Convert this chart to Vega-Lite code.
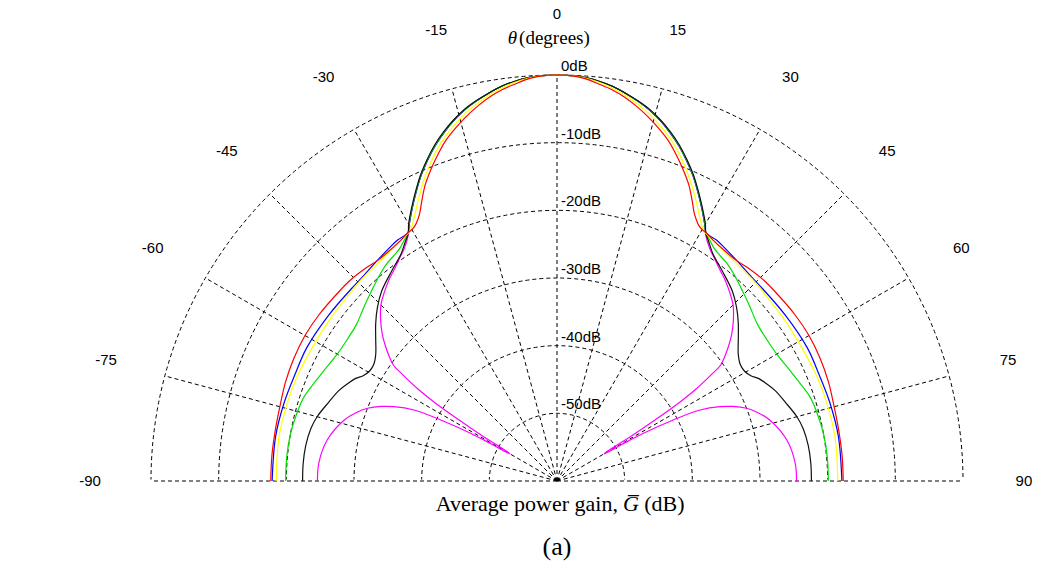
{
  "$schema": "https://vega.github.io/schema/vega-lite/v6.json",
  "width": 812,
  "height": 406,
  "autosize": "none",
  "padding": {"left": 151, "top": 75, "right": 78, "bottom": 88},
  "background": "white",
  "config": {"view": {"stroke": null}},
  "datasets": {
    "curves": [
      {"s":"1-magenta","t":-90,"g":-24.6},{"s":"1-magenta","t":-85.7,"g":-24.7},{"s":"1-magenta","t":-79.9,"g":-25.5},{"s":"1-magenta","t":-74,"g":-27.3},{"s":"1-magenta","t":-70.9,"g":-28.8},{"s":"1-magenta","t":-69,"g":-30.0},{"s":"1-magenta","t":-67,"g":-31.8},{"s":"1-magenta","t":-65.5,"g":-33.5},{"s":"1-magenta","t":-63.6,"g":-36.4},{"s":"1-magenta","t":-62.3,"g":-40.6},{"s":"1-magenta","t":-61.1,"g":-45.4},{"s":"1-magenta","t":-60.6,"g":-49.0},{"s":"1-magenta","t":-60.2,"g":-52.0},{"s":"1-magenta","t":-59.5,"g":-51.5},{"s":"1-magenta","t":-58.8,"g":-47.0},{"s":"1-magenta","t":-58,"g":-42.5},{"s":"1-magenta","t":-57.3,"g":-38.5},{"s":"1-magenta","t":-56.5,"g":-35.3},{"s":"1-magenta","t":-55.5,"g":-32.5},{"s":"1-magenta","t":-54.7,"g":-30.4},{"s":"1-magenta","t":-53.5,"g":-29.2},{"s":"1-magenta","t":-52,"g":-27.9},{"s":"1-magenta","t":-50,"g":-26.3},{"s":"1-magenta","t":-47.6,"g":-24.7},{"s":"1-magenta","t":-45,"g":-23.2},{"s":"1-magenta","t":-43,"g":-22.4},{"s":"1-magenta","t":-40,"g":-21.3},{"s":"1-magenta","t":-38,"g":-20.7},{"s":"1-magenta","t":-35,"g":-19.6},{"s":"1-magenta","t":-33.5,"g":-19.0},{"s":"1-magenta","t":-31,"g":-17.4},{"s":"1-magenta","t":-30,"g":-16.3},{"s":"1-magenta","t":-28,"g":-14.4},{"s":"1-magenta","t":-26,"g":-12.5},{"s":"1-magenta","t":-24,"g":-10.6},{"s":"1-magenta","t":-22,"g":-8.9},{"s":"1-magenta","t":-20,"g":-7.3},{"s":"1-magenta","t":-18,"g":-5.9},{"s":"1-magenta","t":-16,"g":-4.6},{"s":"1-magenta","t":-14,"g":-3.5},{"s":"1-magenta","t":-12,"g":-2.6},{"s":"1-magenta","t":-10,"g":-1.8},{"s":"1-magenta","t":-8,"g":-1.1},{"s":"1-magenta","t":-6,"g":-0.6},{"s":"1-magenta","t":-4,"g":-0.25},{"s":"1-magenta","t":-2,"g":-0.05},
      {"s":"1-magenta","t":0,"g":0},
      {"s":"1-magenta","t":2,"g":-0.05},{"s":"1-magenta","t":4,"g":-0.25},{"s":"1-magenta","t":6,"g":-0.6},{"s":"1-magenta","t":8,"g":-1.1},{"s":"1-magenta","t":10,"g":-1.8},{"s":"1-magenta","t":12,"g":-2.6},{"s":"1-magenta","t":14,"g":-3.5},{"s":"1-magenta","t":16,"g":-4.6},{"s":"1-magenta","t":18,"g":-5.9},{"s":"1-magenta","t":20,"g":-7.3},{"s":"1-magenta","t":22,"g":-8.9},{"s":"1-magenta","t":24,"g":-10.6},{"s":"1-magenta","t":26,"g":-12.5},{"s":"1-magenta","t":28,"g":-14.4},{"s":"1-magenta","t":30,"g":-16.3},{"s":"1-magenta","t":31,"g":-17.4},{"s":"1-magenta","t":33.5,"g":-19.0},{"s":"1-magenta","t":35,"g":-19.6},{"s":"1-magenta","t":38,"g":-20.7},{"s":"1-magenta","t":40,"g":-21.3},{"s":"1-magenta","t":43,"g":-22.4},{"s":"1-magenta","t":45,"g":-23.2},{"s":"1-magenta","t":47.6,"g":-24.7},{"s":"1-magenta","t":50,"g":-26.3},{"s":"1-magenta","t":52,"g":-27.9},{"s":"1-magenta","t":53.5,"g":-29.2},{"s":"1-magenta","t":54.7,"g":-30.4},{"s":"1-magenta","t":55.5,"g":-32.5},{"s":"1-magenta","t":56.5,"g":-35.3},{"s":"1-magenta","t":57.3,"g":-38.5},{"s":"1-magenta","t":58,"g":-42.5},{"s":"1-magenta","t":58.8,"g":-47.0},{"s":"1-magenta","t":59.5,"g":-51.5},{"s":"1-magenta","t":60.2,"g":-52.0},{"s":"1-magenta","t":60.6,"g":-49.0},{"s":"1-magenta","t":61.1,"g":-45.4},{"s":"1-magenta","t":62.3,"g":-40.6},{"s":"1-magenta","t":63.6,"g":-36.4},{"s":"1-magenta","t":65.5,"g":-33.5},{"s":"1-magenta","t":67,"g":-31.8},{"s":"1-magenta","t":69,"g":-30.0},{"s":"1-magenta","t":70.9,"g":-28.8},{"s":"1-magenta","t":74,"g":-27.3},{"s":"1-magenta","t":79.9,"g":-25.5},{"s":"1-magenta","t":85.7,"g":-24.7},{"s":"1-magenta","t":90,"g":-24.6},

      {"s":"2-blue","t":-90,"g":-17.9},{"s":"2-blue","t":-81,"g":-17.9},{"s":"2-blue","t":-74,"g":-18.05},{"s":"2-blue","t":-68,"g":-18.2},{"s":"2-blue","t":-62,"g":-18.1},{"s":"2-blue","t":-54,"g":-18.3},{"s":"2-blue","t":-47,"g":-18.4},{"s":"2-blue","t":-43,"g":-18.3},{"s":"2-blue","t":-39.5,"g":-18.0},{"s":"2-blue","t":-36,"g":-17.6},{"s":"2-blue","t":-33.5,"g":-17.3},{"s":"2-blue","t":-31,"g":-17.2},{"s":"2-blue","t":-30,"g":-16.3},{"s":"2-blue","t":-28,"g":-14.4},{"s":"2-blue","t":-26,"g":-12.5},{"s":"2-blue","t":-24,"g":-10.6},{"s":"2-blue","t":-22,"g":-8.9},{"s":"2-blue","t":-20,"g":-7.3},{"s":"2-blue","t":-18,"g":-5.9},{"s":"2-blue","t":-16,"g":-4.6},{"s":"2-blue","t":-14,"g":-3.5},{"s":"2-blue","t":-12,"g":-2.6},{"s":"2-blue","t":-10,"g":-1.8},{"s":"2-blue","t":-8,"g":-1.1},{"s":"2-blue","t":-6,"g":-0.6},{"s":"2-blue","t":-4,"g":-0.25},{"s":"2-blue","t":-2,"g":-0.05},
      {"s":"2-blue","t":0,"g":0},
      {"s":"2-blue","t":2,"g":-0.05},{"s":"2-blue","t":4,"g":-0.25},{"s":"2-blue","t":6,"g":-0.6},{"s":"2-blue","t":8,"g":-1.1},{"s":"2-blue","t":10,"g":-1.8},{"s":"2-blue","t":12,"g":-2.6},{"s":"2-blue","t":14,"g":-3.5},{"s":"2-blue","t":16,"g":-4.6},{"s":"2-blue","t":18,"g":-5.9},{"s":"2-blue","t":20,"g":-7.3},{"s":"2-blue","t":22,"g":-8.9},{"s":"2-blue","t":24,"g":-10.6},{"s":"2-blue","t":26,"g":-12.5},{"s":"2-blue","t":28,"g":-14.4},{"s":"2-blue","t":30,"g":-16.3},{"s":"2-blue","t":31,"g":-17.2},{"s":"2-blue","t":33.5,"g":-17.3},{"s":"2-blue","t":36,"g":-17.6},{"s":"2-blue","t":39.5,"g":-18.0},{"s":"2-blue","t":43,"g":-18.3},{"s":"2-blue","t":47,"g":-18.4},{"s":"2-blue","t":54,"g":-18.3},{"s":"2-blue","t":62,"g":-18.1},{"s":"2-blue","t":68,"g":-18.2},{"s":"2-blue","t":74,"g":-18.05},{"s":"2-blue","t":81,"g":-17.9},{"s":"2-blue","t":90,"g":-17.9},

      {"s":"3-green","t":-90,"g":-19.9},{"s":"3-green","t":-85,"g":-19.9},{"s":"3-green","t":-80,"g":-20.0},{"s":"3-green","t":-75,"g":-20.3},{"s":"3-green","t":-71.6,"g":-20.6},{"s":"3-green","t":-67,"g":-21.5},{"s":"3-green","t":-64.5,"g":-21.9},{"s":"3-green","t":-60,"g":-22.5},{"s":"3-green","t":-56,"g":-22.6},{"s":"3-green","t":-52,"g":-22.4},{"s":"3-green","t":-48,"g":-21.6},{"s":"3-green","t":-44.5,"g":-20.8},{"s":"3-green","t":-41,"g":-19.9},{"s":"3-green","t":-38,"g":-19.2},{"s":"3-green","t":-36,"g":-18.9},{"s":"3-green","t":-34,"g":-18.5},{"s":"3-green","t":-32.5,"g":-17.9},{"s":"3-green","t":-31,"g":-17.3},{"s":"3-green","t":-30,"g":-16.25},{"s":"3-green","t":-28,"g":-14.35},{"s":"3-green","t":-26,"g":-12.45},{"s":"3-green","t":-24,"g":-10.55},{"s":"3-green","t":-22,"g":-8.85},{"s":"3-green","t":-20,"g":-7.25},{"s":"3-green","t":-18,"g":-5.85},{"s":"3-green","t":-16,"g":-4.55},{"s":"3-green","t":-14,"g":-3.45},{"s":"3-green","t":-12,"g":-2.6},{"s":"3-green","t":-10,"g":-1.8},{"s":"3-green","t":-8,"g":-1.1},{"s":"3-green","t":-6,"g":-0.6},{"s":"3-green","t":-4,"g":-0.25},{"s":"3-green","t":-2,"g":-0.05},
      {"s":"3-green","t":0,"g":0},
      {"s":"3-green","t":2,"g":-0.05},{"s":"3-green","t":4,"g":-0.25},{"s":"3-green","t":6,"g":-0.6},{"s":"3-green","t":8,"g":-1.1},{"s":"3-green","t":10,"g":-1.8},{"s":"3-green","t":12,"g":-2.6},{"s":"3-green","t":14,"g":-3.45},{"s":"3-green","t":16,"g":-4.55},{"s":"3-green","t":18,"g":-5.85},{"s":"3-green","t":20,"g":-7.25},{"s":"3-green","t":22,"g":-8.85},{"s":"3-green","t":24,"g":-10.55},{"s":"3-green","t":26,"g":-12.45},{"s":"3-green","t":28,"g":-14.35},{"s":"3-green","t":30,"g":-16.25},{"s":"3-green","t":31,"g":-17.3},{"s":"3-green","t":32.5,"g":-17.9},{"s":"3-green","t":34,"g":-18.5},{"s":"3-green","t":36,"g":-18.9},{"s":"3-green","t":38,"g":-19.2},{"s":"3-green","t":41,"g":-19.9},{"s":"3-green","t":44.5,"g":-20.8},{"s":"3-green","t":48,"g":-21.6},{"s":"3-green","t":52,"g":-22.4},{"s":"3-green","t":56,"g":-22.6},{"s":"3-green","t":60,"g":-22.5},{"s":"3-green","t":64.5,"g":-21.9},{"s":"3-green","t":67,"g":-21.5},{"s":"3-green","t":71.6,"g":-20.6},{"s":"3-green","t":75,"g":-20.3},{"s":"3-green","t":80,"g":-20.0},{"s":"3-green","t":85,"g":-19.9},{"s":"3-green","t":90,"g":-19.9},

      {"s":"4-black","t":-90,"g":-22.4},{"s":"4-black","t":-86,"g":-22.4},{"s":"4-black","t":-82,"g":-22.5},{"s":"4-black","t":-78,"g":-22.8},{"s":"4-black","t":-75,"g":-23.3},{"s":"4-black","t":-71,"g":-24.3},{"s":"4-black","t":-67.5,"g":-25.1},{"s":"4-black","t":-65,"g":-25.9},{"s":"4-black","t":-63,"g":-26.6},{"s":"4-black","t":-61.5,"g":-27.4},{"s":"4-black","t":-59.5,"g":-27.9},{"s":"4-black","t":-57.5,"g":-27.9},{"s":"4-black","t":-55,"g":-27.3},{"s":"4-black","t":-52,"g":-26.0},{"s":"4-black","t":-49,"g":-24.5},{"s":"4-black","t":-46,"g":-23.1},{"s":"4-black","t":-42.7,"g":-21.8},{"s":"4-black","t":-38.2,"g":-20.5},{"s":"4-black","t":-34.5,"g":-19.3},{"s":"4-black","t":-32.5,"g":-18.2},{"s":"4-black","t":-31,"g":-17.3},{"s":"4-black","t":-30,"g":-16.15},{"s":"4-black","t":-28,"g":-14.25},{"s":"4-black","t":-26,"g":-12.35},{"s":"4-black","t":-24,"g":-10.45},{"s":"4-black","t":-22,"g":-8.75},{"s":"4-black","t":-20,"g":-7.15},{"s":"4-black","t":-18,"g":-5.75},{"s":"4-black","t":-16,"g":-4.5},{"s":"4-black","t":-14,"g":-3.4},{"s":"4-black","t":-12,"g":-2.55},{"s":"4-black","t":-10,"g":-1.8},{"s":"4-black","t":-8,"g":-1.1},{"s":"4-black","t":-6,"g":-0.6},{"s":"4-black","t":-4,"g":-0.25},{"s":"4-black","t":-2,"g":-0.05},
      {"s":"4-black","t":0,"g":0},
      {"s":"4-black","t":2,"g":-0.05},{"s":"4-black","t":4,"g":-0.25},{"s":"4-black","t":6,"g":-0.6},{"s":"4-black","t":8,"g":-1.1},{"s":"4-black","t":10,"g":-1.8},{"s":"4-black","t":12,"g":-2.55},{"s":"4-black","t":14,"g":-3.4},{"s":"4-black","t":16,"g":-4.5},{"s":"4-black","t":18,"g":-5.75},{"s":"4-black","t":20,"g":-7.15},{"s":"4-black","t":22,"g":-8.75},{"s":"4-black","t":24,"g":-10.45},{"s":"4-black","t":26,"g":-12.35},{"s":"4-black","t":28,"g":-14.25},{"s":"4-black","t":30,"g":-16.15},{"s":"4-black","t":31,"g":-17.3},{"s":"4-black","t":32.5,"g":-18.2},{"s":"4-black","t":34.5,"g":-19.3},{"s":"4-black","t":38.2,"g":-20.5},{"s":"4-black","t":42.7,"g":-21.8},{"s":"4-black","t":46,"g":-23.1},{"s":"4-black","t":49,"g":-24.5},{"s":"4-black","t":52,"g":-26.0},{"s":"4-black","t":55,"g":-27.3},{"s":"4-black","t":57.5,"g":-27.9},{"s":"4-black","t":59.5,"g":-27.9},{"s":"4-black","t":61.5,"g":-27.4},{"s":"4-black","t":63,"g":-26.6},{"s":"4-black","t":65,"g":-25.9},{"s":"4-black","t":67.5,"g":-25.1},{"s":"4-black","t":71,"g":-24.3},{"s":"4-black","t":75,"g":-23.3},{"s":"4-black","t":78,"g":-22.8},{"s":"4-black","t":82,"g":-22.5},{"s":"4-black","t":86,"g":-22.4},{"s":"4-black","t":90,"g":-22.4},

      {"s":"5-yellow","t":-90,"g":-18.5},{"s":"5-yellow","t":-81,"g":-18.4},{"s":"5-yellow","t":-74,"g":-18.5},{"s":"5-yellow","t":-68,"g":-18.6},{"s":"5-yellow","t":-62,"g":-18.8},{"s":"5-yellow","t":-55,"g":-18.8},{"s":"5-yellow","t":-48,"g":-18.7},{"s":"5-yellow","t":-44,"g":-18.5},{"s":"5-yellow","t":-38.5,"g":-18.25},{"s":"5-yellow","t":-35,"g":-17.9},{"s":"5-yellow","t":-33,"g":-17.6},{"s":"5-yellow","t":-31,"g":-17.3},{"s":"5-yellow","t":-30,"g":-16.9},{"s":"5-yellow","t":-28,"g":-15.3},{"s":"5-yellow","t":-26,"g":-13.4},{"s":"5-yellow","t":-24,"g":-11.5},{"s":"5-yellow","t":-22,"g":-9.7},{"s":"5-yellow","t":-20,"g":-8.0},{"s":"5-yellow","t":-18,"g":-6.5},{"s":"5-yellow","t":-16,"g":-5.2},{"s":"5-yellow","t":-14,"g":-4.0},{"s":"5-yellow","t":-12,"g":-3.0},{"s":"5-yellow","t":-10,"g":-2.1},{"s":"5-yellow","t":-8,"g":-1.35},{"s":"5-yellow","t":-6,"g":-0.75},{"s":"5-yellow","t":-4,"g":-0.3},{"s":"5-yellow","t":-2,"g":-0.05},
      {"s":"5-yellow","t":0,"g":0},
      {"s":"5-yellow","t":2,"g":-0.05},{"s":"5-yellow","t":4,"g":-0.3},{"s":"5-yellow","t":6,"g":-0.75},{"s":"5-yellow","t":8,"g":-1.35},{"s":"5-yellow","t":10,"g":-2.1},{"s":"5-yellow","t":12,"g":-3.0},{"s":"5-yellow","t":14,"g":-4.0},{"s":"5-yellow","t":16,"g":-5.2},{"s":"5-yellow","t":18,"g":-6.5},{"s":"5-yellow","t":20,"g":-8.0},{"s":"5-yellow","t":22,"g":-9.7},{"s":"5-yellow","t":24,"g":-11.5},{"s":"5-yellow","t":26,"g":-13.4},{"s":"5-yellow","t":28,"g":-15.3},{"s":"5-yellow","t":30,"g":-16.9},{"s":"5-yellow","t":31,"g":-17.3},{"s":"5-yellow","t":33,"g":-17.6},{"s":"5-yellow","t":35,"g":-17.9},{"s":"5-yellow","t":38.5,"g":-18.25},{"s":"5-yellow","t":44,"g":-18.5},{"s":"5-yellow","t":48,"g":-18.7},{"s":"5-yellow","t":55,"g":-18.8},{"s":"5-yellow","t":62,"g":-18.8},{"s":"5-yellow","t":68,"g":-18.6},{"s":"5-yellow","t":74,"g":-18.5},{"s":"5-yellow","t":81,"g":-18.4},{"s":"5-yellow","t":90,"g":-18.5},

      {"s":"6-red","t":-90,"g":-17.7},{"s":"6-red","t":-85,"g":-17.7},{"s":"6-red","t":-80,"g":-17.7},{"s":"6-red","t":-75,"g":-17.6},{"s":"6-red","t":-70,"g":-17.3},{"s":"6-red","t":-65,"g":-17.1},{"s":"6-red","t":-60,"g":-17.0},{"s":"6-red","t":-55,"g":-17.1},{"s":"6-red","t":-50,"g":-17.3},{"s":"6-red","t":-46,"g":-17.4},{"s":"6-red","t":-42,"g":-17.7},{"s":"6-red","t":-39,"g":-18.0},{"s":"6-red","t":-36,"g":-17.9},{"s":"6-red","t":-33,"g":-17.6},{"s":"6-red","t":-31,"g":-17.2},{"s":"6-red","t":-30,"g":-17.1},{"s":"6-red","t":-29,"g":-16.8},{"s":"6-red","t":-28,"g":-16.2},{"s":"6-red","t":-27,"g":-15.4},{"s":"6-red","t":-26,"g":-14.3},{"s":"6-red","t":-24,"g":-12.1},{"s":"6-red","t":-22,"g":-10.3},{"s":"6-red","t":-20,"g":-8.6},{"s":"6-red","t":-18,"g":-7.0},{"s":"6-red","t":-16,"g":-5.7},{"s":"6-red","t":-14,"g":-4.5},{"s":"6-red","t":-12,"g":-3.4},{"s":"6-red","t":-10,"g":-2.4},{"s":"6-red","t":-8,"g":-1.6},{"s":"6-red","t":-6,"g":-1.0},{"s":"6-red","t":-4,"g":-0.4},{"s":"6-red","t":-2,"g":-0.05},
      {"s":"6-red","t":0,"g":0},
      {"s":"6-red","t":2,"g":-0.05},{"s":"6-red","t":4,"g":-0.4},{"s":"6-red","t":6,"g":-1.0},{"s":"6-red","t":8,"g":-1.6},{"s":"6-red","t":10,"g":-2.4},{"s":"6-red","t":12,"g":-3.4},{"s":"6-red","t":14,"g":-4.5},{"s":"6-red","t":16,"g":-5.7},{"s":"6-red","t":18,"g":-7.0},{"s":"6-red","t":20,"g":-8.6},{"s":"6-red","t":22,"g":-10.3},{"s":"6-red","t":24,"g":-12.1},{"s":"6-red","t":26,"g":-14.3},{"s":"6-red","t":27,"g":-15.4},{"s":"6-red","t":28,"g":-16.2},{"s":"6-red","t":29,"g":-16.8},{"s":"6-red","t":30,"g":-17.1},{"s":"6-red","t":31,"g":-17.2},{"s":"6-red","t":33,"g":-17.6},{"s":"6-red","t":36,"g":-17.9},{"s":"6-red","t":39,"g":-18.0},{"s":"6-red","t":42,"g":-17.7},{"s":"6-red","t":46,"g":-17.4},{"s":"6-red","t":50,"g":-17.3},{"s":"6-red","t":55,"g":-17.1},{"s":"6-red","t":60,"g":-17.0},{"s":"6-red","t":65,"g":-17.1},{"s":"6-red","t":70,"g":-17.3},{"s":"6-red","t":75,"g":-17.6},{"s":"6-red","t":80,"g":-17.7},{"s":"6-red","t":85,"g":-17.7},{"s":"6-red","t":90,"g":-17.7}
    ]
  },
  "layer": [
    {
      "data": {"values": [{"r": 60, "t1": -90, "t2": 90}, {"r": 50, "t1": -90, "t2": 90}, {"r": 40, "t1": -90, "t2": 90}, {"r": 30, "t1": -90, "t2": 90}, {"r": 20, "t1": -90, "t2": 90}, {"r": 10, "t1": -90, "t2": 90}]},
      "mark": {"type": "arc", "filled": false, "stroke": "#000000", "strokeWidth": 1, "strokeDash": [4, 3]},
      "encoding": {
        "x": {"datum": 0, "type": "quantitative", "scale": {"domain": [-60, 60], "nice": false, "zero": false}, "axis": null},
        "y": {"datum": 0, "type": "quantitative", "scale": {"domain": [0, 60], "nice": false, "zero": false}, "axis": null},
        "theta": {"field": "t1", "type": "quantitative", "scale": {"type": "linear", "domain": [-90, 90], "range": [-1.5707963268, 1.5707963268]}},
        "theta2": {"field": "t2"},
        "radius": {"field": "r", "type": "quantitative", "scale": {"type": "linear", "domain": [0, 60], "range": [0, 406], "zero": true}}
      }
    },
    {
      "data": {"values": [{"a": -61, "b": 61, "c": 0}]},
      "mark": {"type": "rule", "stroke": "white", "strokeWidth": 3},
      "encoding": {
        "x": {"field": "a", "type": "quantitative", "axis": null},
        "x2": {"field": "b"},
        "y": {"field": "c", "type": "quantitative", "axis": null}
      }
    },
    {
      "data": {"values": [{"t": -90}, {"t": -75}, {"t": -60}, {"t": -45}, {"t": -30}, {"t": -15}, {"t": 0}, {"t": 15}, {"t": 30}, {"t": 45}, {"t": 60}, {"t": 75}, {"t": 90}]},
      "transform": [
        {"calculate": "60*sin(datum.t*PI/180)", "as": "xe"},
        {"calculate": "60*cos(datum.t*PI/180)", "as": "ye"},
        {"calculate": "0", "as": "o"}
      ],
      "mark": {"type": "rule", "stroke": "#000000", "strokeWidth": 1, "strokeDash": [4, 3]},
      "encoding": {
        "x": {"field": "o", "type": "quantitative", "axis": null},
        "y": {"field": "o", "type": "quantitative", "axis": null},
        "x2": {"field": "xe"},
        "y2": {"field": "ye"}
      }
    },
    {
      "data": {"name": "curves"},
      "transform": [
        {"calculate": "(datum.g+60)*sin(datum.t*PI/180)", "as": "px"},
        {"calculate": "(datum.g+60)*cos(datum.t*PI/180)", "as": "py"}
      ],
      "mark": {"type": "line", "strokeWidth": 1.2, "interpolate": "catmull-rom"},
      "encoding": {
        "x": {"field": "px", "type": "quantitative", "axis": null},
        "y": {"field": "py", "type": "quantitative", "axis": null},
        "order": {"field": "t", "type": "quantitative"},
        "color": {"field": "s", "type": "nominal", "legend": null,
          "scale": {"domain": ["1-magenta", "2-blue", "3-green", "4-black", "5-yellow", "6-red"], "range": ["#ff00ff", "#0000ff", "#00e000", "#111111", "#ffff00", "#ff0000"]}}
      }
    },
    {
      "data": {"values": [{"t": -90, "label": "-90"}, {"t": -75, "label": "-75"}, {"t": -60, "label": "-60"}, {"t": -45, "label": "-45"}, {"t": -30, "label": "-30"}, {"t": -15, "label": "-15"}, {"t": 0, "label": "0"}, {"t": 15, "label": "15"}, {"t": 30, "label": "30"}, {"t": 45, "label": "45"}, {"t": 60, "label": "60"}, {"t": 75, "label": "75"}, {"t": 90, "label": "90"}]},
      "transform": [
        {"calculate": "69*sin(datum.t*PI/180)", "as": "lx"},
        {"calculate": "69*cos(datum.t*PI/180)", "as": "ly"}
      ],
      "mark": {"type": "text", "font": "Liberation Sans", "fontSize": 15, "align": "center", "baseline": "middle", "color": "#000000"},
      "encoding": {
        "x": {"field": "lx", "type": "quantitative", "axis": null},
        "y": {"field": "ly", "type": "quantitative", "axis": null},
        "text": {"field": "label", "type": "nominal"}
      }
    },
    {
      "data": {"values": [{"r": 60, "label": "0dB"}, {"r": 50, "label": "-10dB"}, {"r": 40, "label": "-20dB"}, {"r": 30, "label": "-30dB"}, {"r": 20, "label": "-40dB"}, {"r": 10, "label": "-50dB"}]},
      "transform": [{"calculate": "0", "as": "o"}],
      "mark": {"type": "text", "font": "Liberation Sans", "fontSize": 15, "align": "left", "baseline": "alphabetic", "dx": 4, "dy": -4, "color": "#000000"},
      "encoding": {
        "x": {"field": "o", "type": "quantitative", "axis": null},
        "y": {"field": "r", "type": "quantitative", "axis": null},
        "text": {"field": "label", "type": "nominal"}
      }
    },
    {
      "data": {"values": [{"tx": -5.9, "ty": 65.5, "txt": "θ"}]},
      "mark": {"type": "text", "font": "Liberation Serif", "fontSize": 19, "fontStyle": "italic", "align": "right", "baseline": "middle", "color": "#000000"},
      "encoding": {
        "x": {"field": "tx", "type": "quantitative", "axis": null},
        "y": {"field": "ty", "type": "quantitative", "axis": null},
        "text": {"field": "txt", "type": "nominal"}
      }
    },
    {
      "data": {"values": [{"tx": -5.6, "ty": 65.5, "txt": "(degrees)"}]},
      "mark": {"type": "text", "font": "Liberation Serif", "fontSize": 19, "align": "left", "baseline": "middle", "color": "#000000"},
      "encoding": {
        "x": {"field": "tx", "type": "quantitative", "axis": null},
        "y": {"field": "ty", "type": "quantitative", "axis": null},
        "text": {"field": "txt", "type": "nominal"}
      }
    },
    {
      "data": {"values": [{"tx": 9.0, "ty": -4.4, "txt": "Average power gain,"}]},
      "mark": {"type": "text", "font": "Liberation Serif", "fontSize": 22, "align": "right", "baseline": "alphabetic", "color": "#000000"},
      "encoding": {
        "x": {"field": "tx", "type": "quantitative", "axis": null},
        "y": {"field": "ty", "type": "quantitative", "axis": null},
        "text": {"field": "txt", "type": "nominal"}
      }
    },
    {
      "data": {"values": [{"tx": 9.75, "ty": -4.4, "txt": "G\u0305"}]},
      "mark": {"type": "text", "font": "Liberation Serif", "fontSize": 22, "fontStyle": "italic", "align": "left", "baseline": "alphabetic", "color": "#000000"},
      "encoding": {
        "x": {"field": "tx", "type": "quantitative", "axis": null},
        "y": {"field": "ty", "type": "quantitative", "axis": null},
        "text": {"field": "txt", "type": "nominal"}
      }
    },
    {
      "data": {"values": [{"tx": 12.9, "ty": -4.4, "txt": "(dB)"}]},
      "mark": {"type": "text", "font": "Liberation Serif", "fontSize": 22, "align": "left", "baseline": "alphabetic", "color": "#000000"},
      "encoding": {
        "x": {"field": "tx", "type": "quantitative", "axis": null},
        "y": {"field": "ty", "type": "quantitative", "axis": null},
        "text": {"field": "txt", "type": "nominal"}
      }
    },
    {
      "data": {"values": [{"tx": 0, "ty": -10.9, "txt": "(a)"}]},
      "mark": {"type": "text", "font": "Liberation Serif", "fontSize": 26, "align": "center", "baseline": "alphabetic", "color": "#000000"},
      "encoding": {
        "x": {"field": "tx", "type": "quantitative", "axis": null},
        "y": {"field": "ty", "type": "quantitative", "axis": null},
        "text": {"field": "txt", "type": "nominal"}
      }
    }
  ]
}
